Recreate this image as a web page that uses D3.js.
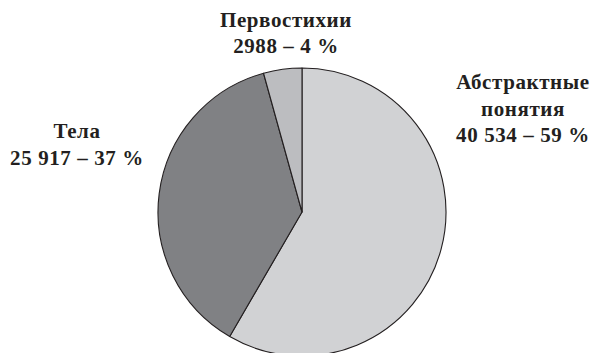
<!DOCTYPE html>
<html>
<head>
<meta charset="utf-8">
<script src="https://cdn.jsdelivr.net/npm/d3@7"></script>
<style>
  html, body { margin: 0; padding: 0; background: #fff; }
  svg { display: block; }
</style>
</head>
<body>
<svg id="chart" width="595" height="353"></svg>
<script>
// Categories in clockwise order starting from 12 o'clock
const categories = ["Абстрактные понятия", "Тела", "Первостихии"];
const nameLines = [["Абстрактные", "понятия"], ["Тела"], ["Первостихии"]];
const values = [40534, 25917, 2988];
const valueLabels = ["40 534", "25 917", "2988"];
const percentLabels = ["59", "37", "4"];
const colors = ["#d1d2d4", "#808184", "#bcbdc0"];

const svg = d3.select("#chart");
const cx = 302, cy = 212, r = 144;

const pie = d3.pie().sort(null).value(d => d)(values);
const arc = d3.arc().innerRadius(0).outerRadius(r);

const g = svg.append("g").attr("transform", `translate(${cx},${cy})`);
g.selectAll("path")
  .data(pie)
  .join("path")
  .attr("d", arc)
  .attr("fill", (d, i) => colors[i])
  .attr("stroke", "#231f20")
  .attr("stroke-width", 1.1)
  .attr("stroke-linejoin", "round");

// Label anchors (center x, first baseline) for each category
const labelPos = [
  { x: 523, y: 89 },
  { x: 77, y: 138 },
  { x: 286, y: 26.5 }
];
const lineGap = 26.5;

categories.forEach((c, i) => {
  const lines = nameLines[i].concat([`${valueLabels[i]} – ${percentLabels[i]} %`]);
  const t = svg.append("text")
    .attr("text-anchor", "middle")
    .attr("font-family", "Liberation Serif, Times New Roman, serif")
    .attr("font-weight", "bold")
    .attr("font-size", 21)
    .attr("letter-spacing", 0.6)
    .attr("fill", "#231f20");
  lines.forEach((l, j) => {
    t.append("tspan")
      .attr("x", labelPos[i].x)
      .attr("y", labelPos[i].y + j * lineGap)
      .text(l);
  });
});
</script>
</body>
</html>
